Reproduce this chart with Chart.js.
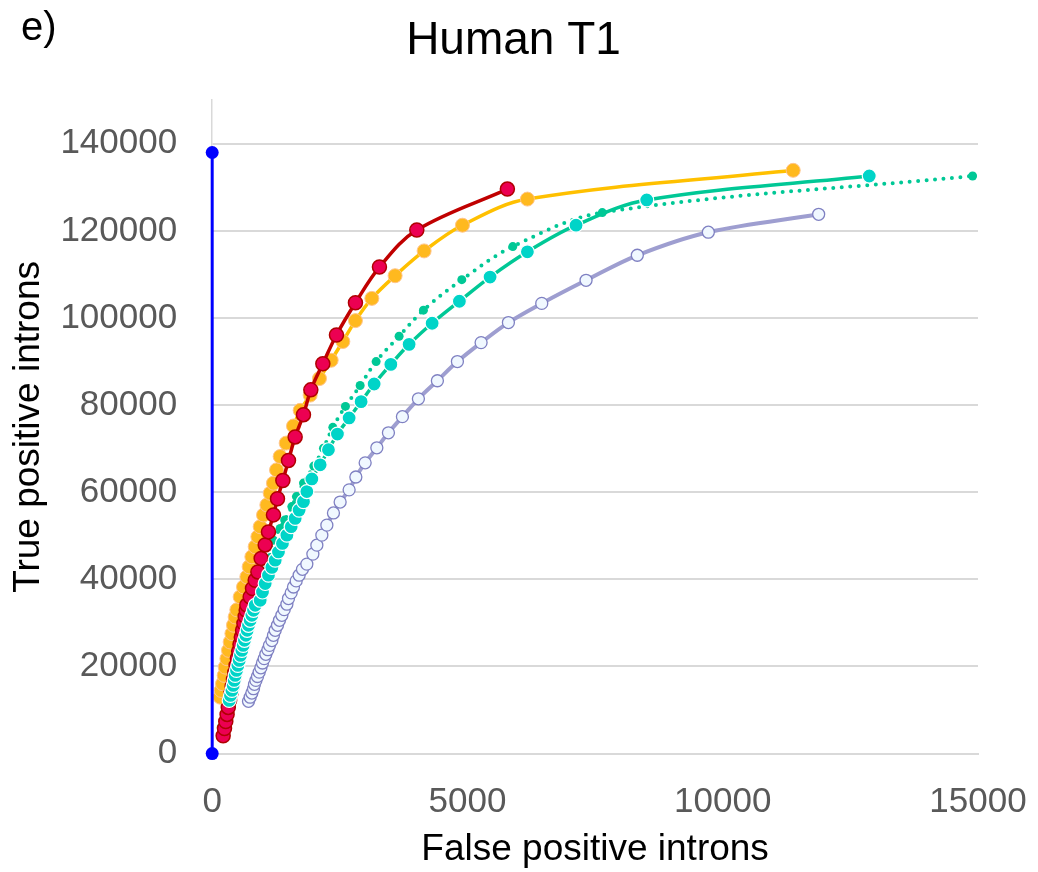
<!DOCTYPE html>
<html lang="en">
<head>
<meta charset="utf-8">
<title>Human T1</title>
<style>
  html, body { margin: 0; padding: 0; background: #fff; }
  #wrap { position: relative; width: 1038px; height: 872px; }
  #myChart { display: block; }
  #panel { position: absolute; left: 21px; top: 6px; font-family: 'Liberation Sans', Arial, sans-serif; font-size: 40px; line-height: 1; color: #000; }
</style>
</head>
<body>
<div id="wrap">
  <canvas id="myChart" width="1038" height="872"></canvas>
  <div id="panel">e)</div>
</div>
<script src="https://cdn.jsdelivr.net/npm/chart.js"></script>
<script>
// values (false positives, true positives)
var blueFP = [0, 0];
var blueTP = [0, 138000];

var redFP = [215, 241, 266, 292, 315, 341, 366, 392, 417, 443, 468, 493, 519, 544, 570, 595, 621, 646, 666, 679,
  744, 789, 842, 895, 959, 1038, 1102, 1200, 1279, 1384, 1494, 1625, 1788, 1932, 2167, 2434, 2806, 3276, 4008, 5782];
var redTP = [4100, 5750, 7350, 9000, 10600, 12200, 13800, 15400, 17000, 18600, 20250, 21900, 23500, 25100, 26700, 28300, 29900, 31500, 32900, 34100,
  35970, 37900, 39800, 41700, 44800, 47900, 50900, 54800, 58500, 62700, 67300, 72700, 77800, 83500, 89500, 96100, 103500, 111700, 120200, 129600];

var orangeFP = [157, 176, 202, 235, 255, 288, 319, 352, 386, 417, 450, 483, 548, 613, 679, 724, 777, 842, 895, 940,
  1005, 1071, 1136, 1200, 1260, 1331, 1449, 1592, 1723, 1919, 2101, 2330, 2559, 2806, 3127, 3583, 4151, 4902, 6174, 11380];
var orangeTP = [12960, 14500, 16040, 17950, 19860, 21790, 23700, 25620, 27550, 29460, 31370, 33000, 35970, 38270, 40580, 42880, 45180, 47480, 49780, 52080,
  54780, 57080, 59770, 62070, 65130, 68200, 71280, 75200, 78800, 82300, 86100, 90300, 94600, 99400, 104500, 109700, 115400, 121300, 127300, 133900];

var cyanFP = [333, 358, 386, 411, 431, 450, 476, 503, 529, 554, 581, 607, 632, 660, 685, 711, 744, 777, 809, 842,
  940, 985, 1038, 1102, 1169, 1234, 1298, 1376, 1463, 1547, 1625, 1703, 1788, 1854, 1952, 2115, 2277, 2453, 2682, 2917,
  3172, 3499, 3857, 4308, 4842, 5443, 6174, 7127, 8511, 12870];
var cyanTP = [12200, 13350, 14500, 15650, 16800, 17950, 19100, 20250, 21400, 22550, 23700, 24850, 26000, 27150, 28300, 29450, 30600, 31750, 32900, 34050,
  35200, 37100, 39050, 40950, 42750, 44400, 46300, 48250, 50150, 52100, 54000, 55900, 57850, 60150, 63050, 66300, 69750, 73350, 77050, 80800,
  84850, 89350, 93950, 98800, 103850, 109400, 115200, 121300, 127100, 132600];

var dottedFP = [180, 250, 300, 375, 440, 505, 575, 650, 720, 800, 880, 960, 1050, 1140, 1200, 1331, 1420, 1560, 1650, 1788,
  1990, 2180, 2363, 2610, 2898, 3211, 3661, 4138, 4889, 5888, 7641, 14894];
var dottedTP = [6000, 9000, 12000, 15000, 18000, 21000, 24000, 27000, 30000, 33000, 36000, 39000, 42000, 45000, 49000, 51700, 53600, 56700, 59000, 62100,
  66000, 70100, 74900, 79700, 84500, 90000, 95800, 101800, 108800, 116400, 124200, 132600];

var lavenderFP = [711, 744, 777, 809, 828, 856, 887, 920, 954, 985, 1018, 1051, 1091, 1122, 1169, 1200, 1234, 1279, 1318, 1365,
  1410, 1463, 1494, 1547, 1592, 1645, 1703, 1768, 1854, 1972, 2050, 2148, 2246, 2375, 2506, 2682, 2814, 2996, 3225, 3452,
  3726, 4039, 4411, 4803, 5267, 5802, 6455, 7323, 8327, 9718, 11879];
var lavenderTP = [12000, 12950, 13900, 14900, 15900, 16800, 17700, 18700, 19700, 20800, 21800, 22800, 23850, 24850, 25950, 27150, 28300, 29450, 30600, 31750,
  33050, 34300, 35600, 36900, 38250, 39650, 40950, 42300, 43500, 45800, 47850, 50150, 52450, 55250, 57750, 60550, 63500, 66750, 70200, 73650,
  77350, 81450, 85600, 90000, 94350, 98950, 103350, 108650, 114400, 119700, 123800];

// tick labels
var xTickValues = [0, 5000, 10000, 15000];
var yTickValues = [0, 20000, 40000, 60000, 80000, 100000, 120000, 140000];

var fontFam = "'Liberation Sans', Arial, sans-serif";

function pts(xs, ys) {
  return xs.map(function (x, i) { return { x: x, y: ys[i] }; });
}

new Chart("myChart", {
  type: "scatter",
  data: {
    datasets: [
      { data: pts(blueFP, blueTP), showLine: true, borderColor: "#0000ff", backgroundColor: "#0000ff",
        borderWidth: 3, pointRadius: 6.5, pointBorderWidth: 0, tension: 0, clip: false },
      { data: pts(cyanFP, cyanTP), showLine: true, borderColor: "#00c896", borderWidth: 3.5,
        pointBackgroundColor: "#00d4c8", pointBorderColor: "#ffffff", pointBorderWidth: 1.2, pointRadius: 7,
        tension: 0.35, clip: false },
      { data: pts(redFP, redTP), showLine: true, borderColor: "#c00000", borderWidth: 3.5,
        pointBackgroundColor: "#ec0052", pointBorderColor: "#b00000", pointBorderWidth: 1.5, pointRadius: 7,
        tension: 0.35, clip: false },
      { data: pts(orangeFP, orangeTP), showLine: true, borderColor: "#ffc000", borderWidth: 3.5,
        pointBackgroundColor: "#ffb91f", pointBorderColor: "#ffc48a", pointBorderWidth: 1, pointRadius: 7,
        tension: 0.35, clip: false },
      { data: pts(dottedFP, dottedTP), showLine: true, borderColor: "#00c896", borderWidth: 4,
        borderDash: [0, 8.5], borderCapStyle: "round",
        pointBackgroundColor: "#00c896", pointBorderWidth: 0, pointRadius: 4.5,
        tension: 0.35, clip: false },
      { data: pts(lavenderFP, lavenderTP), showLine: true, borderColor: "#9e9ed0", borderWidth: 4,
        pointBackgroundColor: "#f0f8ff", pointBorderColor: "#7f80c2", pointBorderWidth: 1.3, pointRadius: 6,
        tension: 0.35, clip: false }
    ]
  },
  options: {
    responsive: false,
    animation: false,
    layout: { padding: { left: 0, right: 11, top: 0, bottom: 0 } },
    plugins: {
      legend: { display: false },
      tooltip: { enabled: false },
      title: {
        display: true,
        text: "Human T1",
        color: "#000",
        font: { family: fontFam, size: 46, weight: "normal" },
        padding: { top: 14, bottom: 31 }
      }
    },
    scales: {
      x: {
        type: "linear",
        min: 0,
        max: 15000,
        afterBuildTicks: function (s) { s.ticks = xTickValues.map(function (v) { return { value: v }; }); },
        afterFit: function (s) { s.paddingRight = 60; },
        ticks: { padding: 28, color: "#595959", maxRotation: 0, autoSkip: false,
          font: { family: fontFam, size: 35 },
          callback: function (v) { return String(v); } },
        grid: { display: false, drawTicks: false },
        border: { display: true, color: "#d9d9d9", width: 2 },
        // negative top padding cancels the second tick padding Chart.js reserves
        title: { display: true, text: "False positive introns", color: "#000",
          font: { family: fontFam, size: 37 }, padding: { top: -24, bottom: 0 } }
      },
      y: {
        type: "linear",
        min: 0,
        max: 150000,
        afterBuildTicks: function (s) { s.ticks = yTickValues.map(function (v) { return { value: v }; }); },
        ticks: { padding: 35, color: "#595959", autoSkip: false,
          font: { family: fontFam, size: 35 },
          callback: function (v) { return String(v); } },
        grid: { color: "#d9d9d9", lineWidth: 2, drawTicks: false },
        border: { display: true, color: "#d9d9d9", width: 1.5 },
        title: { display: true, text: "True positive introns", color: "#000",
          font: { family: fontFam, size: 37 }, padding: { top: 7, bottom: -26 } }
      }
    }
  }
});
</script>
</body>
</html>
